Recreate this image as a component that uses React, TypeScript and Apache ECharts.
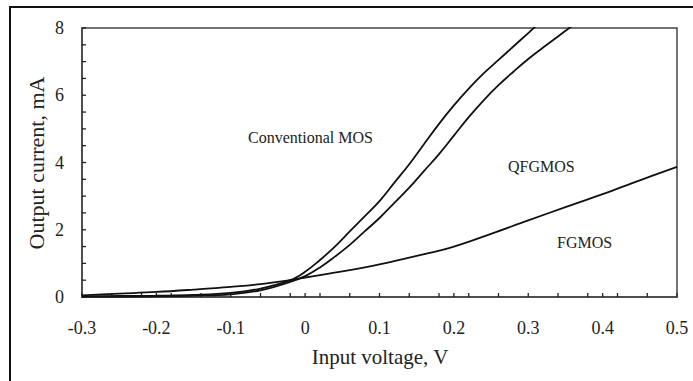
import React, { useEffect, useRef } from "react";
import * as echarts from "echarts";

const convX = [-0.3, -0.25, -0.2, -0.15, -0.1, -0.06, -0.02, 0.0, 0.02, 0.04, 0.06, 0.08, 0.1, 0.12, 0.14, 0.16, 0.18, 0.2, 0.22, 0.24, 0.26, 0.28, 0.3, 0.32];
const convY = [0.02, 0.03, 0.04, 0.06, 0.12, 0.25, 0.5, 0.75, 1.1, 1.5, 1.95, 2.4, 2.85, 3.4, 3.95, 4.55, 5.15, 5.7, 6.2, 6.65, 7.05, 7.45, 7.85, 8.25];

const qfgX = [-0.3, -0.2, -0.15, -0.1, -0.06, -0.02, 0.0, 0.02, 0.04, 0.06, 0.08, 0.1, 0.12, 0.14, 0.16, 0.18, 0.2, 0.22, 0.24, 0.26, 0.28, 0.3, 0.32, 0.34, 0.36];
const qfgY = [0.01, 0.02, 0.04, 0.08, 0.2, 0.45, 0.62, 0.88, 1.2, 1.55, 1.95, 2.35, 2.8, 3.25, 3.75, 4.25, 4.8, 5.35, 5.85, 6.3, 6.7, 7.08, 7.42, 7.75, 8.08];

const fgX = [-0.3, -0.25, -0.2, -0.15, -0.1, -0.06, -0.02, 0.0, 0.05, 0.1, 0.15, 0.2, 0.25, 0.3, 0.35, 0.4, 0.45, 0.5];
const fgY = [0.05, 0.1, 0.15, 0.22, 0.3, 0.38, 0.5, 0.58, 0.76, 0.97, 1.22, 1.5, 1.88, 2.28, 2.67, 3.06, 3.47, 3.87];

const xTicks = { min: -0.3, max: 0.5, interval: 0.1, minorStep: 0.04 };
const yTicks = { min: 0, max: 8, interval: 2, minorStep: 0.5 };

const seriesNames = ["Conventional MOS", "QFGMOS", "FGMOS"];
const xTitle = "Input voltage, V";
const yTitle = "Output current, mA";

const FONT = "Liberation Serif";

function zip(xs: number[], ys: number[]) {
  return xs.map((x, i) => [x, ys[i]]);
}

function steps(min: number, max: number, step: number) {
  const out: number[] = [];
  const n = Math.round((max - min) / step);
  for (let i = 0; i <= n; i++) out.push(Math.round((min + i * step) * 1000) / 1000);
  return out;
}

export default function App() {
  const ref = useRef<HTMLDivElement>(null);
  useEffect(() => {
    if (!ref.current) return;
    const chart = echarts.init(ref.current, null, { renderer: "svg" });
    const lineSeries = (name: string, data: number[][]) => ({
      type: "line",
      name,
      data,
      showSymbol: false,
      smooth: 0.4,
      clip: true,
      lineStyle: { color: "#111", width: 1.8 },
      silent: true,
    });
    const xTickVals = Array.from(
      new Set([...steps(xTicks.min, xTicks.max, xTicks.interval), ...steps(xTicks.min, xTicks.max, xTicks.minorStep)])
    );
    const yTickVals = steps(yTicks.min, yTicks.max, yTicks.minorStep);
    chart.setOption({
      animation: false,
      backgroundColor: "#fff",
      grid: {
        left: 82,
        top: 28,
        width: 595,
        height: 269,
        show: true,
        borderColor: "#444",
        borderWidth: 1.5,
      },
      xAxis: {
        type: "value",
        min: xTicks.min,
        max: xTicks.max,
        interval: xTicks.interval,
        axisLine: { show: true, onZero: false, lineStyle: { color: "#444", width: 1.5 } },
        axisTick: { show: false },
        splitLine: { show: false },
        axisLabel: {
          fontFamily: FONT,
          fontSize: 18,
          color: "#222",
          margin: 22,
          formatter: (v: number) => String(Math.round(v * 10) / 10),
        },
      },
      yAxis: {
        type: "value",
        min: yTicks.min,
        max: yTicks.max,
        interval: yTicks.interval,
        axisLine: { show: true, onZero: false, lineStyle: { color: "#444", width: 1.5 } },
        axisTick: { show: false },
        splitLine: { show: false },
        axisLabel: { fontFamily: FONT, fontSize: 18, color: "#222", margin: 18 },
      },
      series: [
        lineSeries(seriesNames[0], zip(convX, convY)),
        lineSeries(seriesNames[1], zip(qfgX, qfgY)),
        lineSeries(seriesNames[2], zip(fgX, fgY)),
        {
          type: "custom",
          silent: true,
          clip: false,
          data: xTickVals.map((v) => [v, yTicks.min]),
          renderItem: (_p: any, api: any) => {
            const p = api.coord([api.value(0), api.value(1)]);
            return {
              type: "line",
              shape: { x1: p[0], y1: p[1], x2: p[0], y2: p[1] - 4 },
              style: { stroke: "#222", lineWidth: 1.3 },
            };
          },
        },
        {
          type: "custom",
          silent: true,
          clip: false,
          data: yTickVals.map((v) => [xTicks.min, v]),
          renderItem: (_p: any, api: any) => {
            const p = api.coord([api.value(0), api.value(1)]);
            return {
              type: "line",
              shape: { x1: p[0], y1: p[1], x2: p[0] + 4, y2: p[1] },
              style: { stroke: "#222", lineWidth: 1.3 },
            };
          },
        },
      ],
      graphic: [
        {
          type: "rect",
          shape: { x: 10, y: 7, width: 700, height: 400 },
          style: { fill: "none", stroke: "#111", lineWidth: 2 },
          silent: true,
        },
        {
          type: "text",
          x: 248,
          y: 137,
          style: { text: seriesNames[0], fontFamily: FONT, fontSize: 16, fill: "#222", textVerticalAlign: "middle" },
        },
        {
          type: "text",
          x: 508,
          y: 166,
          style: { text: seriesNames[1], fontFamily: FONT, fontSize: 16, fill: "#222", textVerticalAlign: "middle" },
        },
        {
          type: "text",
          x: 557,
          y: 242,
          style: { text: seriesNames[2], fontFamily: FONT, fontSize: 16, fill: "#222", textVerticalAlign: "middle" },
        },
        {
          type: "text",
          x: 380,
          y: 357,
          style: { text: xTitle, fontFamily: FONT, fontSize: 21, fill: "#222", textAlign: "center", textVerticalAlign: "middle" },
        },
        {
          type: "text",
          x: 36,
          y: 163,
          rotation: Math.PI / 2,
          style: { text: yTitle, fontFamily: FONT, fontSize: 22, fill: "#222", textAlign: "center", textVerticalAlign: "middle" },
        },
      ],
    });
    return () => chart.dispose();
  }, []);
  return (
    <div
      ref={ref}
      style={{ position: "fixed", left: 0, top: 0, width: 693, height: 381 }}
    />
  );
}
